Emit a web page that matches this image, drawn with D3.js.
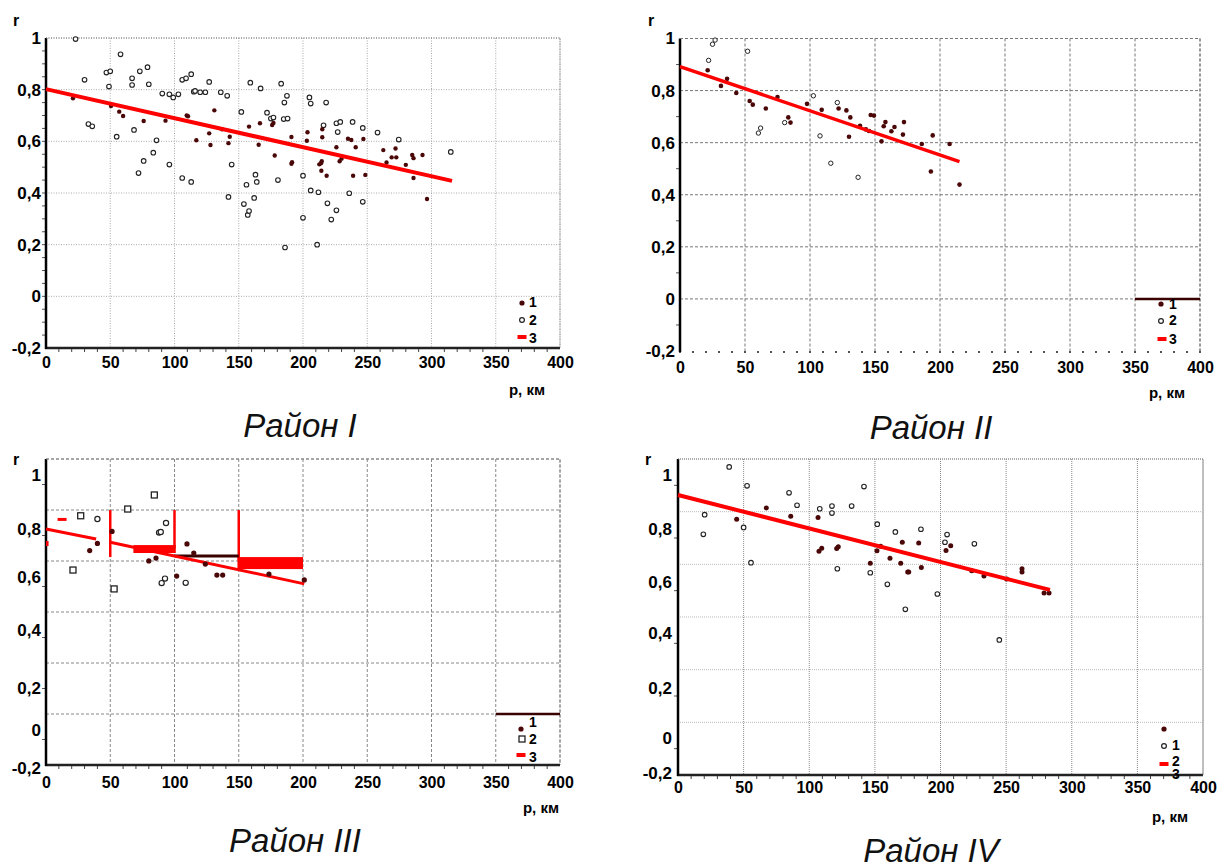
<!DOCTYPE html>
<html><head><meta charset="utf-8">
<script src="https://cdn.jsdelivr.net/npm/d3@7"></script>
<style>body{margin:0;background:#fff}</style>
</head><body>
<svg id="c" width="1219" height="862"></svg>
<script>
// ---------- shared axis data ----------
const xTicks = [0,50,100,150,200,250,300,350,400];
const yTicks = [-0.2,0,0.2,0.4,0.6,0.8,1];
const yTickLabels = ["-0,2","0","0,2","0,4","0,6","0,8","1"];
const panelTitles = ["Район I","Район II","Район III","Район IV"];
const legendLabels = ["1","2","3"];
const xAxisTitle = "р, км";
const yAxisTitle = "r";

// ---------- Район I ----------
const p1Open = [[23,0.996],[30,0.838],[33,0.667],[36,0.658],[47,0.866],[50,0.871],[49,0.812],[58,0.937],[55,0.618],[67,0.844],[67,0.818],[73,0.871],[79,0.887],[80,0.821],[68.5,0.644],[72,0.477],[76,0.524],[83.5,0.556],[86,0.604],[90.5,0.785],[96,0.782],[99,0.77],[103,0.782],[96,0.51],[106,0.838],[109,0.844],[113,0.86],[115,0.792],[116,0.795],[120,0.79],[124,0.79],[127,0.83],[106,0.458],[113,0.443],[136,0.79],[141,0.776],[144.5,0.51],[142,0.385],[152,0.714],[159,0.827],[167,0.805],[156,0.432],[163,0.471],[164,0.443],[162,0.381],[154,0.357],[157,0.315],[158,0.33],[172,0.711],[175,0.688],[177,0.692],[183,0.823],[187.5,0.776],[185.5,0.75],[185,0.686],[188,0.688],[180.5,0.45],[186,0.189],[200,0.467],[200,0.304],[205,0.77],[206,0.746],[206,0.41],[212,0.403],[211,0.2],[218,0.75],[216,0.662],[226,0.67],[229,0.675],[227,0.636],[238.6,0.675],[246.5,0.652],[258,0.634],[274.5,0.607],[315,0.559],[236,0.399],[219,0.36],[226,0.333],[246.5,0.366],[222,0.297]];
const p1Filled = [[21,0.767],[50.6,0.737],[57,0.715],[60,0.698],[76,0.679],[93,0.68],[109.5,0.7],[110.5,0.697],[117,0.604],[127,0.631],[128,0.586],[131,0.72],[142,0.593],[143,0.618],[137,0.647],[158,0.657],[165.5,0.587],[166.5,0.67],[176,0.663],[177,0.671],[178,0.545],[191,0.617],[191.5,0.519],[191,0.513],[203.5,0.635],[203,0.602],[212.7,0.511],[215,0.647],[215,0.616],[214,0.515],[214.6,0.523],[214.3,0.486],[218.4,0.467],[226,0.577],[228.5,0.523],[230,0.533],[235,0.61],[237.6,0.605],[247,0.609],[241,0.577],[239,0.467],[248.5,0.47],[262.5,0.566],[265,0.518],[272,0.572],[269,0.538],[272.6,0.538],[280,0.509],[285,0.547],[286,0.535],[293,0.547],[286,0.458],[296.5,0.377]];
const p1Reg = [[0,0.802],[316,0.447]];

// ---------- Район II ----------
const p2Open = [[27,0.994],[25,0.978],[22,0.916],[52,0.951],[102.6,0.78],[121,0.754],[80.5,0.677],[62,0.656],[60.3,0.637],[107.7,0.626],[116,0.521],[137,0.467]];
const p2Filled = [[21.3,0.878],[31.5,0.818],[36.2,0.845],[43.3,0.791],[53.6,0.76],[56,0.746],[66,0.731],[75,0.775],[83.3,0.697],[85,0.677],[97.7,0.749],[109,0.726],[122,0.731],[128,0.724],[131,0.697],[130,0.623],[138.5,0.665],[143,0.651],[146.7,0.706],[149.2,0.704],[145.4,0.645],[155,0.605],[156.7,0.663],[158,0.679],[162.6,0.644],[165,0.66],[171.5,0.631],[172.3,0.679],[186,0.595],[194.4,0.628],[193,0.489],[207.4,0.595],[215,0.439]];
const p2Reg = [[0,0.892],[215,0.527]];
const p2LegendBar = [[350,0],[400,0]];

// ---------- Район III ----------
const p3Filled = [[34,0.71],[40,0.74],[51.4,0.79],[80,0.667],[85.6,0.679],[101.7,0.604],[109.7,0.738],[115,0.70],[124,0.654],[133,0.608],[137.5,0.608],[173.5,0.612],[201,0.589]];
const p3OpenSquares = [[27,0.849],[21,0.629],[53,0.555],[63.6,0.874],[84.3,0.926]];
const p3OpenCircles = [[40,0.837],[93.4,0.822],[88,0.785],[89.3,0.788],[90,0.577],[92.6,0.594],[108.7,0.578]];
const p3RegA = [[0,0.80],[39,0.758]];
const p3RegB = [[50,0.745],[201,0.574]];
const p3Bars = [[0,2,0.729,0.75],[9,16,0.83,0.841],[68,101,0.70,0.733],[149,200,0.633,0.683]];
const p3DarkStep = [[100,0.6875],[150,0.6875]];
const p3VLines = [[50,0.683,0.87],[100,0.72,0.87],[150,0.67,0.87]];
const p3LegendBar = [[350,0],[400,0]];

// ---------- Район IV ----------
const p4Open = [[39,1.03],[20.3,0.853],[19.3,0.78],[52.6,0.96],[50,0.806],[55.6,0.673],[84.6,0.934],[90.7,0.888],[108,0.875],[117.3,0.885],[117.3,0.859],[132.3,0.885],[141.7,0.957],[121.4,0.65],[146.5,0.635],[151.8,0.818],[159.5,0.591],[165.6,0.789],[173.2,0.493],[185.1,0.799],[197.6,0.553],[205,0.779],[203.4,0.75],[225.8,0.744],[244.8,0.375]];
const p4Filled = [[44.7,0.836],[67.3,0.878],[85.9,0.847],[106.7,0.843],[107.4,0.716],[109.5,0.727],[120.9,0.726],[122.1,0.733],[146.5,0.671],[151.6,0.718],[154.4,0.735],[161.5,0.69],[169.7,0.671],[170.9,0.75],[175,0.638],[175.8,0.638],[183.4,0.747],[185.4,0.655],[204.2,0.719],[207.8,0.737],[223.8,0.642],[233.1,0.623],[250.4,0.611],[262.1,0.65],[262.1,0.638],[278.9,0.557],[282.7,0.557]];
const p4Reg = [[0,0.926],[283.4,0.569]];

// ---------- drawing ----------
const svg = d3.select("#c");
const FONT = "'Liberation Sans', Arial, Helvetica, sans-serif";
const DOT = "#4a0707";
const RED = "#ff0000";

function panel(c){
  const g = svg.append("g");
  const x = d3.scaleLinear().domain([0,400]).range(c.xr);
  const y = c.y, yg = c.yg;
  const gt = yg(1), gb = yg(-0.2);
  const [xl, xr] = c.xr;

  const grid = g.append("g").attr("fill","none");
  grid.selectAll("line.v").data(xTicks.slice(1)).join("line")
    .attr("x1",d=>x(d)).attr("x2",d=>x(d)).attr("y1",gt).attr("y2",gb)
    .attr("stroke",c.vGridColor||c.gridColor).attr("stroke-width",1).attr("stroke-dasharray",c.dash);
  grid.selectAll("line.h").data(yTicks.slice(1)).join("line")
    .attr("x1",xl).attr("x2",xr).attr("y1",d=>yg(d)).attr("y2",d=>yg(d))
    .attr("stroke",c.gridColor).attr("stroke-width",1).attr("stroke-dasharray",c.dash);

  const minorX = d3.range(10,400,10);
  if (c.dotAxis){
    g.append("g").selectAll("rect").data(minorX.concat([0,400])).join("rect")
      .attr("x",d=>x(d)-1).attr("y",gb).attr("width",2).attr("height",2).attr("fill","#555");
  } else {
    g.append("g").selectAll("line").data(minorX.filter(d=>d%50)).join("line")
      .attr("x1",d=>x(d)).attr("x2",d=>x(d)).attr("y1",gb+1).attr("y2",gb+4)
      .attr("stroke","#444").attr("stroke-width",1);
    g.append("line").attr("x1",xl-1).attr("x2",xr).attr("y1",gb).attr("y2",gb)
      .attr("stroke","#222").attr("stroke-width",2.5);
  }
  g.append("g").selectAll("line").data(c.minorY).join("line")
    .attr("x1",xl-4).attr("x2",xl).attr("y1",d=>yg(d)).attr("y2",d=>yg(d))
    .attr("stroke","#555").attr("stroke-width",1);
  g.append("line").attr("x1",xl).attr("x2",xl).attr("y1",gt).attr("y2",gb+1)
    .attr("stroke","#000").attr("stroke-width",2.5);

  const ax = g.append("g").attr("transform",`translate(0,${gb})`)
    .call(d3.axisBottom(x).tickValues(xTicks).tickSize(0).tickPadding(c.xPad).tickFormat(d3.format("d")));
  ax.select(".domain").remove();
  ax.selectAll("text").attr("font-family",FONT).attr("font-size",16).attr("font-weight","bold").attr("fill","#000");
  const ay = g.append("g").attr("transform",`translate(${xl},0)`)
    .call(d3.axisLeft(y).tickValues(yTicks).tickSize(0).tickPadding(c.yPad).tickFormat((d,i)=>yTickLabels[i]));
  ay.select(".domain").remove();
  ay.selectAll("text").attr("font-family",FONT).attr("font-size",17).attr("font-weight","bold").attr("fill","#000");

  g.append("text").attr("x",c.rPos[0]).attr("y",c.rPos[1]).attr("text-anchor","middle").attr("dy","0.35em")
    .attr("font-family",FONT).attr("font-size",16).attr("font-weight","bold").text(yAxisTitle);
  g.append("text").attr("x",c.pPos[0]).attr("y",c.pPos[1]).attr("text-anchor","middle").attr("dy","0.35em")
    .attr("font-family",FONT).attr("font-size",15).attr("font-weight","bold").text(xAxisTitle);
  g.append("text").attr("x",c.tPos[0]).attr("y",c.tPos[1]).attr("text-anchor","middle")
    .attr("font-family",FONT).attr("font-size",33).attr("font-style","italic").attr("fill","#111").text(c.title);

  return {g,x,y,yg};
}

function openCircles(p,data,r,sw){
  p.g.append("g").selectAll("circle").data(data).join("circle")
    .attr("cx",d=>p.x(d[0])).attr("cy",d=>p.y(d[1])).attr("r",r)
    .attr("fill","#fff").attr("stroke","#222").attr("stroke-width",sw);
}
function filledDots(p,data,r){
  p.g.append("g").selectAll("circle").data(data).join("circle")
    .attr("cx",d=>p.x(d[0])).attr("cy",d=>p.y(d[1])).attr("r",r).attr("fill",DOT);
}
function regLine(p,data,w){
  p.g.append("path").datum(data).attr("fill","none").attr("stroke",RED).attr("stroke-width",w)
    .attr("d",d3.line().x(d=>p.x(d[0])).y(d=>p.y(d[1])));
}
function legend(p,items){
  const lg = p.g.append("g");
  items.forEach(it=>{
    if(it.type==="dot") lg.append("circle").attr("cx",it.mx).attr("cy",it.my).attr("r",2.6).attr("fill",DOT);
    if(it.type==="open") lg.append("circle").attr("cx",it.mx).attr("cy",it.my).attr("r",2.4).attr("fill","#fff").attr("stroke","#222").attr("stroke-width",1.2);
    if(it.type==="square") lg.append("rect").attr("x",it.mx-3).attr("y",it.my-3).attr("width",6).attr("height",6).attr("fill","#fff").attr("stroke","#222").attr("stroke-width",1.3);
    if(it.type==="bar") lg.append("rect").attr("x",it.mx-4.5).attr("y",it.my-2).attr("width",9).attr("height",4).attr("fill",RED);
    if(it.label) lg.append("text").attr("x",it.lx).attr("y",it.ly).attr("dy","0.35em")
      .attr("font-family",FONT).attr("font-size",14).attr("font-weight","bold").text(it.label);
  });
}

// ---- Panel I ----
{
  const y = d3.scaleLinear().domain([-0.2,1]).range([348,38]);
  const p = panel({xr:[46,560], y, yg:y, gridColor:"#aaa", dash:"1,1.5", minorY:d3.range(-0.15,1,0.05),
    xPad:9, yPad:5, rPos:[16,20], pPos:[527,390], tPos:[300,437], title:panelTitles[0]});
  p.g.append("path").attr("d",`M46,38H560V348`).attr("fill","none").attr("stroke","#777").attr("stroke-dasharray","1,1.5");
  openCircles(p,p1Open,2.3,1.1);
  filledDots(p,p1Filled,2.2);
  regLine(p,p1Reg,4);
  legend(p,[{type:"dot",mx:522,my:303,label:legendLabels[0],lx:529,ly:302},
            {type:"open",mx:522,my:320,label:legendLabels[1],lx:529,ly:320},
            {type:"bar",mx:522,my:337,label:legendLabels[2],lx:529,ly:338}]);
}
// ---- Panel II ----
{
  const y = d3.scaleLinear().domain([-0.2,1]).range([351,38.5]);
  const p = panel({xr:[680,1200], y, yg:y, gridColor:"#777", dash:"3,2", minorY:d3.range(-0.1,1,0.2),
    dotAxis:true, xPad:11, yPad:5, rPos:[651,20], pPos:[1167,393], tPos:[931,439], title:panelTitles[1]});
  p.g.append("path").attr("d",`M680,38.5H1200V351`).attr("fill","none").attr("stroke","#777").attr("stroke-dasharray","3,2");
  p.g.append("path").datum(p2LegendBar).attr("stroke","#3a0000").attr("stroke-width",2.5)
    .attr("d",d3.line().x(d=>p.x(d[0])).y(d=>p.y(d[1])));
  openCircles(p,p2Open,2.2,1);
  filledDots(p,p2Filled,2.3);
  regLine(p,p2Reg,3.5);
  legend(p,[{type:"dot",mx:1161,my:304,label:legendLabels[0],lx:1169,ly:304},
            {type:"open",mx:1161,my:321,label:legendLabels[1],lx:1169,ly:320},
            {type:"bar",mx:1162,my:339,label:legendLabels[2],lx:1169,ly:339}]);
}
// ---- Panel III ----
{
  const y = d3.scaleLinear().domain(yTicks).range([768,730,688,630,577,529,475]);
  const yg = d3.scaleLinear().domain([-0.2,1]).range([765,459]);
  const p = panel({xr:[46,560], y, yg, gridColor:"#888", dash:"3,2", minorY:d3.range(-0.1,1,0.2),
    xPad:12, yPad:5, rPos:[16,459], pPos:[541,808], tPos:[295,852], title:panelTitles[2]});
  p.g.append("path").attr("d",`M46,459H560V765`).attr("fill","none").attr("stroke","#888").attr("stroke-dasharray","3,2");
  p.g.append("path").datum(p3LegendBar).attr("stroke","#3a0000").attr("stroke-width",2.5)
    .attr("d",d3.line().x(d=>p.x(d[0])).y(d=>p.yg(d[1])));
  p.g.append("g").selectAll("rect").data(p3Bars).join("rect")
    .attr("x",d=>p.x(d[0])).attr("width",d=>p.x(d[1])-p.x(d[0]))
    .attr("y",d=>p.y(d[3])).attr("height",d=>p.y(d[2])-p.y(d[3])).attr("fill",RED);
  p.g.append("g").selectAll("line").data(p3VLines).join("line")
    .attr("x1",d=>p.x(d[0])).attr("x2",d=>p.x(d[0])).attr("y1",d=>p.y(d[2])).attr("y2",d=>p.y(d[1]))
    .attr("stroke",RED).attr("stroke-width",2.5);
  p.g.append("path").datum(p3DarkStep).attr("stroke","#3a0000").attr("stroke-width",3)
    .attr("d",d3.line().x(d=>p.x(d[0])).y(d=>p.y(d[1])));
  regLine(p,p3RegA,3);
  regLine(p,p3RegB,3);
  p.g.append("g").selectAll("rect").data(p3OpenSquares).join("rect")
    .attr("x",d=>p.x(d[0])-3).attr("y",d=>p.y(d[1])-3).attr("width",6).attr("height",6)
    .attr("fill","#fff").attr("stroke","#222").attr("stroke-width",1.3);
  openCircles(p,p3OpenCircles,2.6,1.2);
  filledDots(p,p3Filled,2.6);
  legend(p,[{type:"dot",mx:521,my:729,label:legendLabels[0],lx:529,ly:722},
            {type:"square",mx:522,my:739,label:legendLabels[1],lx:529,ly:739},
            {type:"bar",mx:521,my:755,label:legendLabels[2],lx:529,ly:757}]);
}
// ---- Panel IV ----
{
  const y = d3.scaleLinear().domain(yTicks).range([773,738,688,633,582,529,475]);
  const yg = d3.scaleLinear().domain([-0.2,1]).range([775,459]);
  const p = panel({xr:[678,1203], y, yg, gridColor:"#bbb", vGridColor:"#888", dash:"1,1", minorY:d3.range(-0.1,1,0.2),
    xPad:7, yPad:6, rPos:[648,459], pPos:[1170,817], tPos:[931,862], title:panelTitles[3]});
  p.g.append("path").attr("d",`M678,459H1203V775`).attr("fill","none").attr("stroke","#777").attr("stroke-dasharray","1,1");
  openCircles(p,p4Open,2.3,1.1);
  filledDots(p,p4Filled,2.5);
  regLine(p,p4Reg,4);
  legend(p,[{type:"dot",mx:1164,my:729},
            {type:"open",mx:1164,my:746,label:legendLabels[0],lx:1172,ly:745},
            {type:"bar",mx:1164,my:764,label:legendLabels[1],lx:1172,ly:761},
            {label:legendLabels[2],lx:1172,ly:774}]);
}
</script>
</body></html>
